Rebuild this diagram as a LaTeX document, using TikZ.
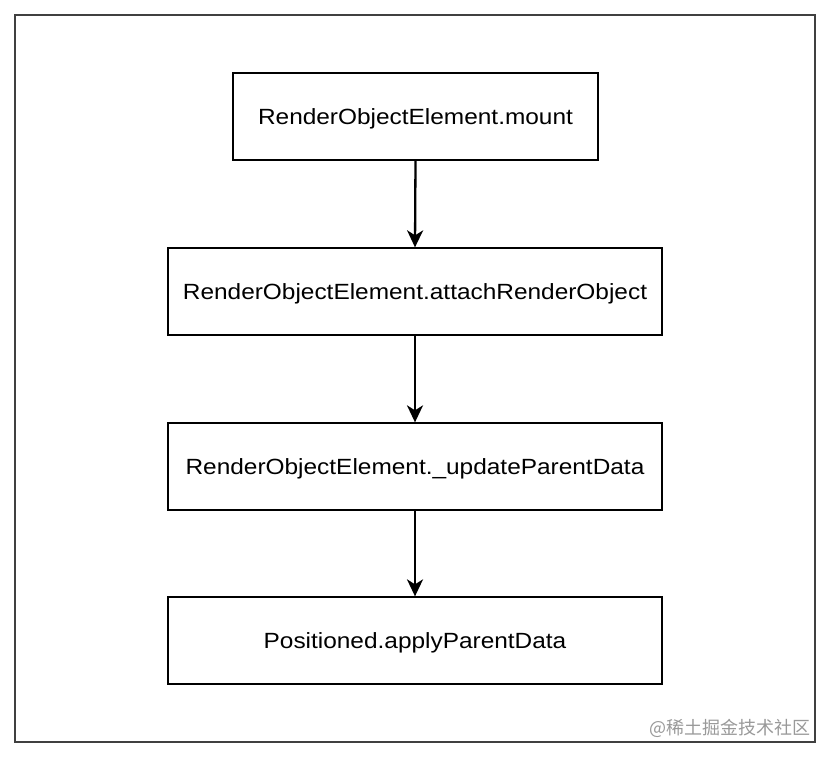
\documentclass[tikz,border=0pt]{standalone}
\usepackage{fontspec}
\setmainfont{Liberation Sans}
\newfontfamily\boxfont[FakeStretch=1.11]{Liberation Sans}
\newfontfamily\cjk{Noto Sans CJK SC}
\usetikzlibrary{arrows.meta}
\begin{document}
\begin{tikzpicture}[x=1pt,y=-1pt,
  stepbox/.style={draw=black,line width=1.3pt,minimum height=87pt,inner sep=0pt,text height=15.75pt,text depth=0pt,font=\boxfont\fontsize{22}{26}\selectfont},
  flow/.style={line width=2.3pt,-{Stealth[length=17pt,width=16pt,inset=5pt]}}]
\useasboundingbox (0,0) rectangle (832,758);
\draw[line width=1.5pt,draw=black!75] (15,15) rectangle (815,742);
\node[stepbox,minimum width=365pt] (a) at (415.5,116.5) {RenderObjectElement.mount};
\node[stepbox,minimum width=494pt] (b) at (415,291.5) {RenderObjectElement.attachRenderObject};
\node[stepbox,minimum width=494pt] (c) at (415,466.5) {RenderObjectElement.\_updateParentData};
\node[stepbox,minimum width=494pt] (d) at (415,640.5) {Positioned.applyParentData};
\draw[flow] (a.south) -- (b.north);
\draw[flow] (b.south) -- (c.north);
\draw[flow] (c.south) -- (d.north);
\node[anchor=east,text=black!40,font=\cjk\fontsize{18}{20}\selectfont,inner sep=0pt] (w) at (811,728) {@稀土掘金技术社区};
\end{tikzpicture}
\end{document}
